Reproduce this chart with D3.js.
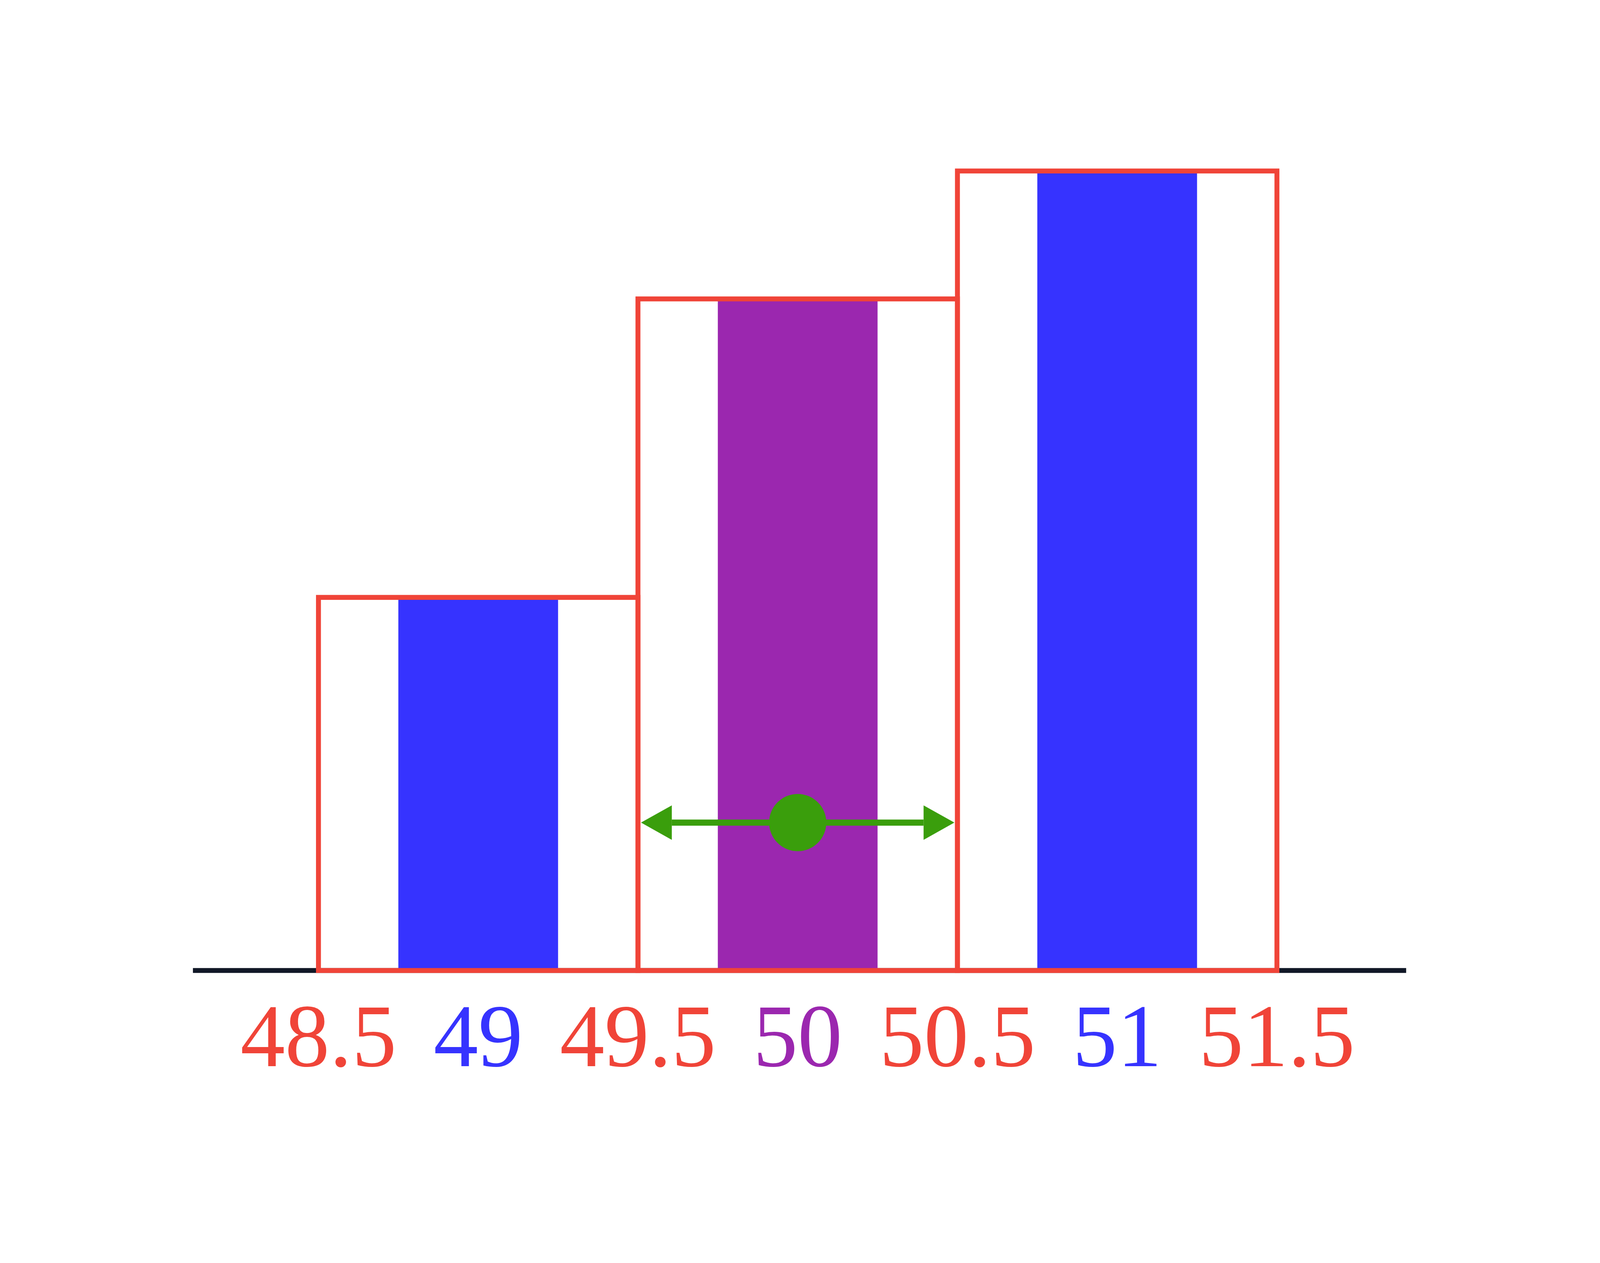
<!DOCTYPE html>
<html>
<head>
<meta charset="utf-8">
<script src="https://cdn.jsdelivr.net/npm/d3@7"></script>
<style>
html, body { margin: 0; padding: 0; background: #fff; overflow: hidden; }
svg { display: block; width: 100vw; height: 100vh; }
</style>
</head>
<body>
<script>
// bins (red outlines) and their heights
const binEdges = [48.5, 49.5, 50.5, 51.5]
const binHeights = [14, 25.2, 30]
// inner bars centred on the integers
const barCenters = [49, 50, 51]
const barColors = ['#3633ff', '#9b27af', '#3633ff']
// tick labels along the axis
const tickValues = [48.5, 49, 49.5, 50, 50.5, 51, 51.5]
const tickLabels = ['48.5', '49', '49.5', '50', '50.5', '51', '51.5']
const tickColors = ['#f04438', '#3633ff', '#f04438', '#9b27af', '#f04438', '#3633ff', '#f04438']
// green marker with the bin range arrow
const markerX = 50
const markerRange = [49.5, 50.5]
const markerY = 5.55

const W = 5200, H = 3234
const red = '#f04438', green = '#3a9e0c'

const x = d3.scaleLinear().domain([48.5, 51.5]).range([1035, 4150])
const y = d3.scaleLinear().domain([0, 30]).range([2719, 120])

const svg = d3.select('body').append('svg')
	.attr('viewBox', `0 0 ${W} ${H}`)

// axis line
svg.append('line')
	.attr('x1', 627).attr('x2', 4570)
	.attr('y1', y(0)).attr('y2', y(0))
	.attr('stroke', '#111827').attr('stroke-width', 16)

// inner bars
svg.selectAll('rect.inner').data(barCenters).enter().append('rect')
	.attr('class', 'inner')
	.attr('x', d => x(d - 0.25))
	.attr('width', d => x(d + 0.25) - x(d - 0.25))
	.attr('y', (d, i) => y(binHeights[i]))
	.attr('height', (d, i) => y(0) - y(binHeights[i]))
	.attr('fill', (d, i) => barColors[i])

// bin outlines
svg.selectAll('rect.bin').data(binHeights).enter().append('rect')
	.attr('class', 'bin')
	.attr('x', (d, i) => x(binEdges[i]))
	.attr('width', (d, i) => x(binEdges[i + 1]) - x(binEdges[i]))
	.attr('y', d => y(d))
	.attr('height', d => y(0) - y(d))
	.attr('fill', 'none')
	.attr('stroke', red).attr('stroke-width', 16)

// arrow
let ay = y(markerY), x0 = x(markerRange[0]) + 10, x1 = x(markerRange[1]) - 10
let hl = 100, hw = 56
svg.append('line')
	.attr('x1', x0 + hl).attr('x2', x1 - hl)
	.attr('y1', ay).attr('y2', ay)
	.attr('stroke', green).attr('stroke-width', 20)
svg.append('path')
	.attr('d', `M${x0},${ay} L${x0 + hl},${ay - hw} L${x0 + hl},${ay + hw} Z`)
	.attr('fill', green)
svg.append('path')
	.attr('d', `M${x1},${ay} L${x1 - hl},${ay - hw} L${x1 - hl},${ay + hw} Z`)
	.attr('fill', green)
svg.append('circle')
	.attr('cx', x(markerX)).attr('cy', ay).attr('r', 93)
	.attr('fill', green)

// tick labels
svg.selectAll('text.tick').data(tickValues).enter().append('text')
	.attr('class', 'tick')
	.attr('x', d => x(d))
	.attr('y', 3030)
	.attr('text-anchor', 'middle')
	.attr('font-family', 'Liberation Serif, DejaVu Serif, serif')
	.attr('font-size', 290)
	.attr('fill', (d, i) => tickColors[i])
	.text((d, i) => tickLabels[i])
</script>
</body>
</html>
